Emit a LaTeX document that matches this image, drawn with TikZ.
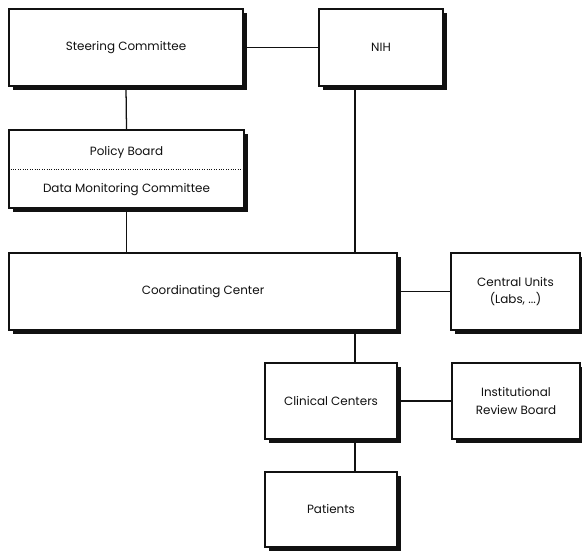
\documentclass[tikz,border=0pt]{standalone}
\usepackage{fontspec}
\setmainfont{Poppins}
\usetikzlibrary{positioning,shadows}
\definecolor{ink}{HTML}{111111}

\begin{document}
\begin{tikzpicture}[
  x=1cm,
  y=1cm,
  unit/.style={draw=ink, fill=white, line width=1pt, inner sep=0pt,
               drop shadow={shadow xshift=2.6pt, shadow yshift=-2.6pt,
                            fill=ink, opacity=1},
               minimum height=1.925cm, align=center,
               font=\fontsize{8.5}{12.5}\selectfont, text=ink},
  boardtext/.style={font=\fontsize{8.5}{12.5}\selectfont, text=ink},
  link/.style={draw=ink, line width=.9pt},
  divider/.style={ink, densely dotted, line width=.7pt},
]
\useasboundingbox (0,0) rectangle (14.55,13.775);

% top row
\node[unit, minimum width=5.85cm] (steering) at (3.15,12.5875) {Steering Committee};
\node[unit, minimum width=3.1cm] (nih) at (9.525,12.5875) {NIH};

% policy board and data monitoring share one box
\node[unit, minimum width=5.875cm, minimum height=1.95cm] (policy) at (3.1625,9.55) {};
\draw[divider] (policy.west) -- (policy.east);
\node[boardtext] (board) at (3.1625,9.96) {Policy Board};
\node[boardtext] (dmc) at (3.1625,9.04) {Data Monitoring Committee};

\node[unit, minimum width=9.7cm] (coord) at (5.075,6.4875) {Coordinating Center};
\node[unit, minimum width=3.225cm] (central) at (12.8875,6.4875) {Central Units\\(Labs, ...)};

\node[unit, minimum width=3.3cm, minimum height=1.9cm] (clinical) at (8.275,3.75) {Clinical Centers};
\node[unit, minimum width=3.2cm, minimum height=1.9cm] (irb) at (12.9,3.75) {Institutional\\Review Board};
\node[unit, minimum width=3.3cm, minimum height=1.875cm] (patients) at (8.275,1.0375) {Patients};

% vertical trunk on the right
\coordinate (trunk) at (8.875,0);

\draw[link] (steering.east) -- (nih.west);
\draw[link] (steering.south) -- (policy.north);
\draw[link] (policy.south) -- (coord.north -| policy.south);
\draw[link] (nih.south -| trunk) -- (coord.north -| trunk);
\draw[link] (coord.east) -- (central.west);
\draw[link] (coord.south -| trunk) -- (clinical.north -| trunk);
\draw[link] (clinical.east) -- (irb.west);
\draw[link] (clinical.south -| trunk) -- (patients.north -| trunk);

\end{tikzpicture}
\end{document}
